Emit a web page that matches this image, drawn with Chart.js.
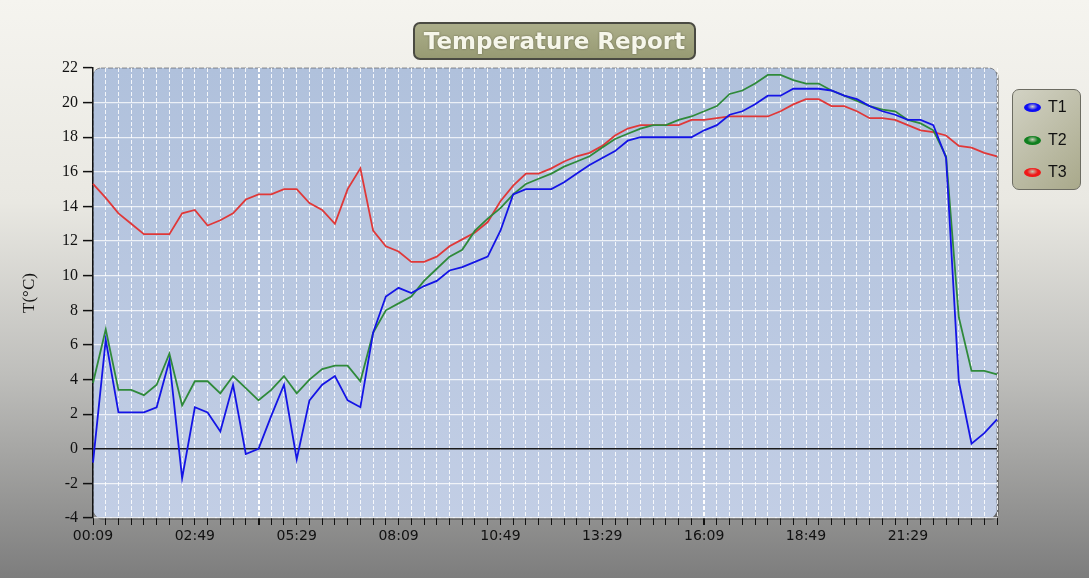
<!DOCTYPE html>
<html>
<head>
<meta charset="utf-8">
<script src="https://cdn.jsdelivr.net/npm/chart.js@4.4.0/dist/chart.umd.min.js"></script>
<style>
  body { margin: 0; background: #7d7d7d; }
  #wrap { position: relative; width: 1089px; height: 578px; overflow: hidden; }
  #title {
    position: absolute; left: 413px; top: 22px; width: 279px; height: 34px;
    border: 2px solid #4a4a42; border-radius: 7px;
    background: linear-gradient(#acae8a, #979a73);
    color: #f6f6ea; font: bold 23px "DejaVu Sans", sans-serif;
    text-align: center; line-height: 34px;
    text-shadow: 0 0 2px rgba(70, 70, 50, 0.7);
  }
  #legend {
    position: absolute; left: 1012px; top: 89px; width: 67px; height: 99px;
    border: 1.5px solid #6c6c62; border-radius: 7px;
    background: linear-gradient(135deg, #d2d2c4, #a9a98b);
  }
  .item { position: absolute; left: 0; height: 20px; font: 16px "Liberation Sans", Arial, sans-serif; color: #111; }
  .dot { position: absolute; left: 11px; top: 6px; width: 17px; height: 9px; border-radius: 50%; }
  .lbl { position: absolute; left: 35px; top: 1px; }
</style>
</head>
<body>
<div id="wrap">
  <canvas id="chart"></canvas>
  <div id="title">Temperature Report</div>
  <div id="legend"></div>
</div>
<script>
// one reading every 20 minutes
const times = [
  '00:09', '00:29', '00:49', '01:09', '01:29', '01:49', '02:09', '02:29',
  '02:49', '03:09', '03:29', '03:49', '04:09', '04:29', '04:49', '05:09',
  '05:29', '05:49', '06:09', '06:29', '06:49', '07:09', '07:29', '07:49',
  '08:09', '08:29', '08:49', '09:09', '09:29', '09:49', '10:09', '10:29',
  '10:49', '11:09', '11:29', '11:49', '12:09', '12:29', '12:49', '13:09',
  '13:29', '13:49', '14:09', '14:29', '14:49', '15:09', '15:29', '15:49',
  '16:09', '16:29', '16:49', '17:09', '17:29', '17:49', '18:09', '18:29',
  '18:49', '19:09', '19:29', '19:49', '20:09', '20:29', '20:49', '21:09',
  '21:29', '21:49', '22:09', '22:29', '22:49', '23:09', '23:29', '23:49'
];

const t1 = [
  -0.8, 6.3, 2.1, 2.1, 2.1, 2.4, 5.1, -1.7,
  2.4, 2.1, 1.0, 3.7, -0.3, 0.0, 1.9, 3.7,
  -0.6, 2.8, 3.7, 4.2, 2.8, 2.4, 6.7, 8.8,
  9.3, 9.0, 9.4, 9.7, 10.3, 10.5, 10.8, 11.1,
  12.6, 14.7, 15.0, 15.0, 15.0, 15.4, 15.9, 16.4,
  16.8, 17.2, 17.8, 18.0, 18.0, 18.0, 18.0, 18.0,
  18.4, 18.7, 19.3, 19.5, 19.9, 20.4, 20.4, 20.8,
  20.8, 20.8, 20.7, 20.4, 20.2, 19.8, 19.5, 19.3,
  19.0, 19.0, 18.7, 16.8, 3.9, 0.3, 0.9, 1.7
];

const t2 = [
  3.8, 6.9, 3.4, 3.4, 3.1, 3.7, 5.5, 2.5,
  3.9, 3.9, 3.2, 4.2, 3.5, 2.8, 3.4, 4.2,
  3.2, 4.0, 4.6, 4.8, 4.8, 3.9, 6.7, 8.0,
  8.4, 8.8, 9.7, 10.4, 11.1, 11.5, 12.6, 13.3,
  13.9, 14.7, 15.3, 15.6, 15.9, 16.3, 16.6, 16.9,
  17.4, 17.9, 18.2, 18.5, 18.7, 18.7, 19.0, 19.2,
  19.5, 19.8, 20.5, 20.7, 21.1, 21.6, 21.6, 21.3,
  21.1, 21.1, 20.7, 20.4, 20.1, 19.8, 19.6, 19.5,
  19.0, 18.8, 18.4, 16.9, 7.6, 4.5, 4.5, 4.3
];

const t3 = [
  15.3, 14.5, 13.6, 13.0, 12.4, 12.4, 12.4, 13.6,
  13.8, 12.9, 13.2, 13.6, 14.4, 14.7, 14.7, 15.0,
  15.0, 14.2, 13.8, 13.0, 15.0, 16.2, 12.6, 11.7,
  11.4, 10.8, 10.8, 11.1, 11.7, 12.1, 12.5, 13.1,
  14.3, 15.2, 15.9, 15.9, 16.2, 16.6, 16.9, 17.1,
  17.5, 18.1, 18.5, 18.7, 18.7, 18.7, 18.7, 19.0,
  19.0, 19.1, 19.2, 19.2, 19.2, 19.2, 19.5, 19.9,
  20.2, 20.2, 19.8, 19.8, 19.5, 19.1, 19.1, 19.0,
  18.7, 18.4, 18.3, 18.1, 17.5, 17.4, 17.1, 16.9
];

const seriesNames = ['T1', 'T2', 'T3'];
const lineColors = ['#1414e6', '#2f8a3a', '#e03838'];
const dotColors = ['#0c0cf4', '#0f7f1e', '#f01818'];
const shownTimes = ['00:09', '02:49', '05:29', '08:09', '10:49', '13:29', '16:09', '18:49', '21:29'];
const brightTimes = ['04:29', '16:09'];

// legend
var legend = document.getElementById('legend');
for (var i = 0; i < seriesNames.length; i++) {
    legend.innerHTML += `
    <div class="item" style="top:${7 + i * 32.5}px">
        <span class="dot" style="background: radial-gradient(ellipse at 50% 40%, #ffffff33, ${dotColors[i]} 45%)"></span>
        <span class="lbl">${seriesNames[i]}</span>
    </div>`;
}

const backdrop = {
    id: 'backdrop',
    beforeDraw(chart) {
        const ctx = chart.ctx;
        const a = chart.chartArea;
        ctx.save();
        var g = ctx.createLinearGradient(0, 0, 0, chart.height);
        g.addColorStop(0, '#f5f4ef');
        g.addColorStop(0.35, '#e9e8e2');
        g.addColorStop(0.65, '#bebebb');
        g.addColorStop(1, '#7d7d7d');
        ctx.fillStyle = g;
        ctx.fillRect(0, 0, chart.width, chart.height);

        // shadow under the plot
        ctx.fillStyle = 'rgba(60,60,60,0.45)';
        ctx.beginPath();
        ctx.roundRect(a.left + 2, a.top + 2, a.width, a.height, 8);
        ctx.fill();

        var pg = ctx.createLinearGradient(0, a.top, 0, a.bottom);
        pg.addColorStop(0, '#b0c1dc');
        pg.addColorStop(1, '#c2cee5');
        ctx.fillStyle = pg;
        ctx.beginPath();
        ctx.roundRect(a.left, a.top, a.width, a.height, 8);
        ctx.fill();
        ctx.setLineDash([5, 2]);
        ctx.strokeStyle = 'rgba(80,80,80,0.6)';
        ctx.lineWidth = 1;
        ctx.stroke();
        ctx.restore();
    }
};

var chart = new Chart(document.getElementById('chart'), {
    type: 'line',
    data: {
        labels: times,
        datasets: [t1, t2, t3].map(function (values, k) {
            return {
                label: seriesNames[k],
                data: values,
                borderColor: lineColors[k],
                borderWidth: 1.8,
                pointRadius: 0,
                tension: 0,
                fill: false
            };
        })
    },
    options: {
        responsive: true,
        maintainAspectRatio: false,
        animation: false,
        layout: { padding: { top: 68, right: 92, left: 0, bottom: 0 } },
        plugins: {
            legend: { display: false },
            tooltip: { enabled: false }
        },
        scales: {
            x: {
                afterFit: function (scale) { scale.height = 60; },
                border: { display: false, dash: [4, 2] },
                grid: {
                    color: function (c) {
                        if (c.index === 0) return 'rgba(0,0,0,0)';
                        return brightTimes.includes(times[c.index]) ? 'rgba(255,255,255,1)' : 'rgba(255,255,255,0.85)';
                    },
                    lineWidth: function (c) {
                        return brightTimes.includes(times[c.index]) ? 2 : 1;
                    },
                    tickColor: '#111',
                    tickWidth: function (c) {
                        return brightTimes.includes(times[c.index]) ? 2 : 1;
                    },
                    tickLength: 7,
                    tickBorderDash: []
                },
                ticks: {
                    autoSkip: false,
                    maxRotation: 0,
                    padding: 3,
                    color: '#111',
                    font: { family: 'DejaVu Sans', size: 14 },
                    callback: function (value) {
                        var t = times[value];
                        return shownTimes.includes(t) ? t : '';
                    }
                }
            },
            y: {
                min: -4,
                max: 22,
                afterFit: function (scale) { scale.width = 93; },
                border: { display: true, color: '#111', width: 1.5 },
                grid: {
                    color: function (c) {
                        if (c.tick.value === 0) return '#1a1a1a';
                        if (c.tick.value === 22) return 'rgba(0,0,0,0)';
                        return 'rgba(255,255,255,0.75)';
                    },
                    lineWidth: function (c) { return c.tick.value === 0 ? 1.5 : 1.2; },
                    tickColor: '#111',
                    tickWidth: 1.5,
                    tickLength: 10
                },
                ticks: {
                    stepSize: 2,
                    padding: 5,
                    color: '#111',
                    font: { family: 'Liberation Serif', size: 16 }
                },
                title: {
                    display: true,
                    text: 'T(°C)',
                    color: '#111',
                    padding: { top: 19, bottom: 0 },
                    font: { family: 'Liberation Serif', size: 17 }
                }
            }
        }
    },
    plugins: [backdrop]
});
</script>
</body>
</html>
